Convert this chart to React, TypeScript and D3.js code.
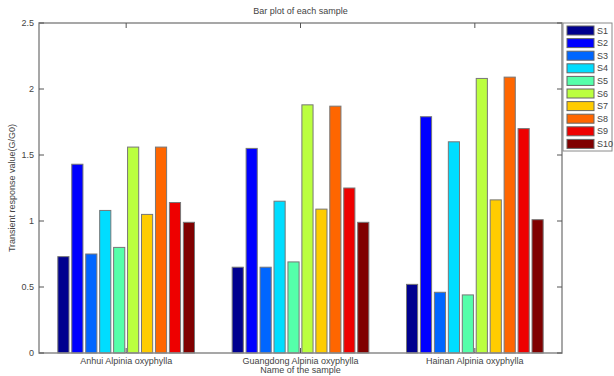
import { useEffect, useRef } from 'react';
import * as d3 from 'd3';

const groups = ['Anhui Alpinia oxyphylla', 'Guangdong Alpinia oxyphylla', 'Hainan Alpinia oxyphylla'];
const series = ['S1', 'S2', 'S3', 'S4', 'S5', 'S6', 'S7', 'S8', 'S9', 'S10'];
const anhui = [0.73, 1.43, 0.75, 1.08, 0.80, 1.56, 1.05, 1.56, 1.14, 0.99];
const guangdong = [0.65, 1.55, 0.65, 1.15, 0.69, 1.88, 1.09, 1.87, 1.25, 0.99];
const hainan = [0.52, 1.79, 0.46, 1.60, 0.44, 2.08, 1.16, 2.09, 1.70, 1.01];
const colors = ['#00008f', '#0000ff', '#0066ff', '#00ddff', '#55ffaa', '#bbff3f', '#ffcc00', '#ff6600', '#ee0000', '#800000'];
const yTicks = [0, 0.5, 1, 1.5, 2, 2.5];

const App = () => {
  const svgRef = useRef<SVGSVGElement>(null);

  useEffect(() => {
    if (!svgRef.current) return;
    const svg = d3.select(svgRef.current);
    svg.selectAll('*').remove();

    const width = 614;
    const height = 376;
    const margin = { top: 23, right: 52, bottom: 23, left: 39 };
    const innerWidth = width - margin.left - margin.right;
    const innerHeight = height - margin.top - margin.bottom;
    const font = 'Arial, "Liberation Sans", sans-serif';
    const axisColor = '#8a8a8a';
    const textColor = '#444';

    const values = [anhui, guangdong, hainan];

    // matlab style grouped bars: each group takes 0.8 of its slot
    const x = d3.scaleBand().domain(groups).range([0, innerWidth]);
    const slot = x.step();
    const xc = (g: string) => (x(g) ?? 0) + slot / 2;
    const inner = d3.scaleBand().domain(series).range([-slot * 0.4, slot * 0.4]).paddingInner(0.2).paddingOuter(0.1);

    const y = d3.scaleLinear().domain([0, 2.5]).range([innerHeight, 0]);

    const chart = svg.append('g').attr('transform', `translate(${margin.left},${margin.top})`);

    // bars
    groups.forEach((g, gi) => {
      chart.append('g')
        .selectAll('rect')
        .data(values[gi])
        .enter()
        .append('rect')
        .attr('x', (_, i) => xc(g) + (inner(series[i]) ?? 0))
        .attr('y', d => y(d))
        .attr('width', inner.bandwidth())
        .attr('height', d => innerHeight - y(d))
        .attr('fill', (_, i) => colors[i])
        .attr('stroke', '#777')
        .attr('stroke-width', 1);
    });

    // box
    chart.append('rect')
      .attr('x', 0).attr('y', 0)
      .attr('width', innerWidth).attr('height', innerHeight)
      .attr('fill', 'none').attr('stroke', axisColor).attr('stroke-width', 1.5);

    // y ticks
    yTicks.forEach(t => {
      chart.append('line').attr('x1', 0).attr('x2', 5).attr('y1', y(t)).attr('y2', y(t)).attr('stroke', '#555');
      chart.append('line').attr('x1', innerWidth - 5).attr('x2', innerWidth).attr('y1', y(t)).attr('y2', y(t)).attr('stroke', '#555');
      chart.append('text')
        .attr('x', -5).attr('y', y(t)).attr('dy', '0.35em')
        .attr('text-anchor', 'end')
        .style('font-family', font).style('font-size', '9px').attr('fill', textColor)
        .text(String(t));
    });

    // x ticks
    groups.forEach(g => {
      chart.append('line').attr('x1', xc(g)).attr('x2', xc(g)).attr('y1', innerHeight).attr('y2', innerHeight - 5).attr('stroke', '#555');
      chart.append('line').attr('x1', xc(g)).attr('x2', xc(g)).attr('y1', 0).attr('y2', 5).attr('stroke', '#555');
      chart.append('text')
        .attr('x', xc(g)).attr('y', innerHeight + 11)
        .attr('text-anchor', 'middle')
        .style('font-family', font).style('font-size', '9px').attr('fill', textColor)
        .text(g);
    });

    // titles
    svg.append('text')
      .attr('x', margin.left + innerWidth / 2).attr('y', 14)
      .attr('text-anchor', 'middle')
      .style('font-family', font).style('font-size', '9px').attr('fill', textColor)
      .text('Bar plot of each sample');

    svg.append('text')
      .attr('x', margin.left + innerWidth / 2).attr('y', 373)
      .attr('text-anchor', 'middle')
      .style('font-family', font).style('font-size', '9px').attr('fill', textColor)
      .text('Name of the sample');

    svg.append('text')
      .attr('transform', `translate(15,${margin.top + innerHeight / 2}) rotate(-90)`)
      .attr('text-anchor', 'middle')
      .style('font-family', font).style('font-size', '9px').attr('fill', textColor)
      .text('Transient response value(G/G0)');

    // legend
    const lx = 563;
    const ly = 23;
    const legend = svg.append('g').attr('transform', `translate(${lx},${ly})`);
    legend.append('rect')
      .attr('x', 0).attr('y', 0).attr('width', 49).attr('height', 128)
      .attr('fill', 'white').attr('stroke', axisColor).attr('stroke-width', 1);
    series.forEach((s, i) => {
      const ry = 2 + i * 12.6;
      legend.append('rect')
        .attr('x', 4).attr('y', ry + 1).attr('width', 27).attr('height', 9)
        .attr('fill', colors[i]).attr('stroke', '#666').attr('stroke-width', 1);
      legend.append('text')
        .attr('x', 34).attr('y', ry + 5.5).attr('dy', '0.35em')
        .style('font-family', font).style('font-size', '9px').attr('fill', textColor)
        .text(s);
    });
  }, []);

  return <svg ref={svgRef} width={614} height={376} style={{ position: 'absolute', left: 0, top: 0, background: 'white' }} />;
};

export default App;
